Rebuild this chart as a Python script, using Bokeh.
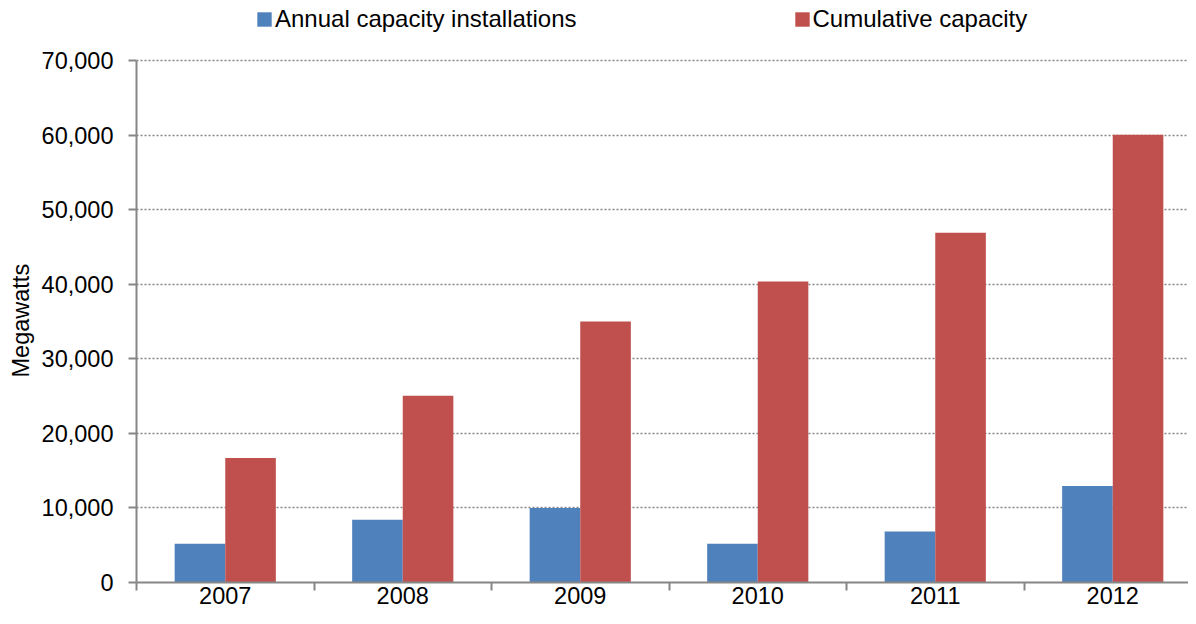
from bokeh.plotting import figure
from bokeh.models import (Range1d, FixedTicker, Legend, LegendItem, ColumnDataSource,
                          NumeralTickFormatter, Title)
from bokeh.embed import file_html
from bokeh.resources import INLINE

years = ["2007", "2008", "2009", "2010", "2011", "2012"]
annual = [5200, 8400, 10000, 5200, 6850, 12950]
cumulative = [16700, 25050, 35000, 40350, 46900, 60050]

FONT = "Liberation Sans"
FS = "23.5px"
GRAY = "#868686"
BLUE = "#4F81BD"
RED = "#C0504D"

n = len(years)
centers = [i + 0.5 for i in range(n)]
bw = 0.285
src = ColumnDataSource(dict(
    xa=[c - bw / 2 for c in centers],
    xc=[c + bw / 2 for c in centers],
    annual=annual,
    cumulative=cumulative,
))

W, H = 1188, 616
left, bottom = 136, 34
frame_w = W - left
frame_bottom = H - bottom          # 582
axis_top_px = 60                   # pixel row of the 70,000 line
cat_px = 177.5
ymax = 70000
y_end = ymax * frame_bottom / (frame_bottom - axis_top_px)

p = figure(width=W, height=H, output_backend="svg", toolbar_location=None,
           x_range=Range1d(0, frame_w / cat_px), y_range=Range1d(0, y_end),
           min_border_left=left, min_border_right=0, min_border_top=0,
           min_border_bottom=bottom)
p.outline_line_color = None
p.background_fill_color = "white"
p.border_fill_color = "white"

ra = p.vbar(x="xa", top="annual", width=bw, source=src, fill_color=BLUE, line_color=None)
rc = p.vbar(x="xc", top="cumulative", width=bw, source=src, fill_color=RED, line_color=None)

# x axis
xa = p.xaxis[0]
xa.ticker = FixedTicker(ticks=centers, minor_ticks=list(range(n + 1)))
xa.major_label_overrides = {c: y for c, y in zip(centers, years)}
xa.major_tick_out = 0
xa.major_tick_in = 0
xa.minor_tick_out = 8
xa.minor_tick_in = 0
xa.minor_tick_line_color = GRAY
xa.minor_tick_line_width = 2
xa.axis_line_color = GRAY
xa.axis_line_width = 2
xa.major_label_standoff = -4
xa.major_label_text_font = FONT
xa.major_label_text_font_size = FS
xa.major_label_text_color = "black"

# y axis
ya = p.yaxis[0]
ya.ticker = FixedTicker(ticks=list(range(0, ymax + 1, 10000)))
ya.formatter = NumeralTickFormatter(format="0,0")
ya.bounds = (0, ymax)
ya.major_tick_out = 8
ya.major_tick_in = 0
ya.major_tick_line_color = GRAY
ya.major_tick_line_width = 2
ya.minor_tick_line_color = None
ya.axis_line_color = GRAY
ya.axis_line_width = 2
ya.major_label_standoff = 15
ya.major_label_text_font = FONT
ya.major_label_text_font_size = FS
ya.major_label_text_color = "black"

ytitle = Title(text="Megawatts", align="left", offset=205, standoff=10,
               text_font=FONT, text_font_size=FS, text_font_style="normal",
               text_color="black")
p.add_layout(ytitle, "left")

p.xgrid.grid_line_color = None
p.ygrid.grid_line_color = GRAY
p.ygrid.grid_line_width = 1.5
p.ygrid.grid_line_dash = "2 2"

legend = Legend(items=[LegendItem(label="Annual capacity installations", renderers=[ra]),
                       LegendItem(label="Cumulative capacity", renderers=[rc])],
                location=(119, frame_bottom - 33), orientation="horizontal",
                glyph_width=18, glyph_height=18, label_standoff=2, spacing=216,
                padding=0, margin=0, border_line_color=None, background_fill_alpha=0,
                label_text_font=FONT, label_text_font_size="24px", label_text_color="black")
p.add_layout(legend, "center")

open("out.html", "w").write(file_html(p, INLINE))
